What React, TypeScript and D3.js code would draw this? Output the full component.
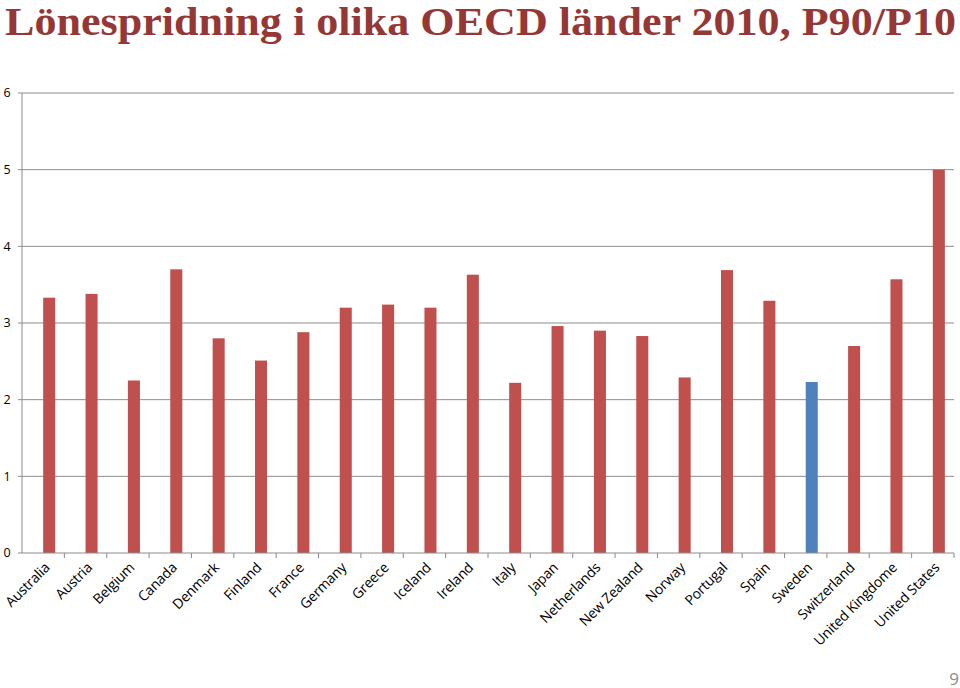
import React from "react";
import * as d3 from "d3";

const countries = [
  "Australia", "Austria", "Belgium", "Canada", "Denmark", "Finland", "France",
  "Germany", "Greece", "Iceland", "Ireland", "Italy", "Japan", "Netherlands",
  "New Zealand", "Norway", "Portugal", "Spain", "Sweden", "Switzerland",
  "United Kingdome", "United States",
];
const p90p10 = [
  3.33, 3.38, 2.25, 3.7, 2.8, 2.51, 2.88, 3.2, 3.24, 3.2, 3.63,
  2.22, 2.96, 2.9, 2.83, 2.29, 3.69, 3.29, 2.23, 2.7, 3.57, 5.0,
];
const highlighted = ["Sweden"];
const yTicks = [0, 1, 2, 3, 4, 5, 6];

const title = "Lönespridning i olika OECD länder 2010, P90/P10";

const W = 960;
const H = 688;
const margin = { top: 93, right: 6, bottom: 135, left: 22 };

export default function App() {
  const x = d3
    .scaleBand<string>()
    .domain(countries)
    .range([margin.left, W - margin.right])
    .padding(0);
  // excel-style clustered slot: empty series left, data series right
  const slot = d3.scaleBand<string>().domain(["empty", "value"]).range([0, x.bandwidth()]).paddingInner(0).paddingOuter(0.76);
  const y = d3.scaleLinear().domain([0, 6]).range([H - margin.bottom, margin.top]);
  const baseY = y(0);

  return (
    <svg
      width={W}
      height={H}
      style={{ position: "absolute", left: 0, top: 0, background: "#fff" }}
      fontFamily="'Open Sans', Lato, sans-serif"
    >
      <text
        x={5}
        y={35}
        fontFamily="'Liberation Serif', serif"
        fontWeight="bold"
        fontSize={41}
        fill="#953735"
        textLength={951}
        lengthAdjust="spacingAndGlyphs"
      >
        {title}
      </text>

      {/* gridlines + y axis */}
      {yTicks.map((t) => (
        <g key={t}>
          {t > 0 && (
            <line x1={margin.left} x2={W - margin.right} y1={y(t)} y2={y(t)} stroke="#8c8c8c" strokeWidth={1} />
          )}
          <line x1={margin.left - 4} x2={margin.left} y1={y(t)} y2={y(t)} stroke="#8c8c8c" />
          <text x={7} y={y(t)} dy="0.35em" fontSize={12.5} textAnchor="middle" fill="#000">
            {t}
          </text>
        </g>
      ))}
      <line x1={margin.left} x2={margin.left} y1={y(6)} y2={baseY} stroke="#8c8c8c" />

      {countries.map((c, i) => (
        <rect
          key={c}
          x={(x(c) ?? 0) + (slot("value") ?? 0)}
          y={y(p90p10[i])}
          width={slot.bandwidth()}
          height={baseY - y(p90p10[i])}
          fill={highlighted.includes(c) ? "#4f81bd" : "#c0504d"}
        />
      ))}

      {/* x axis */}
      <line x1={margin.left} x2={W - margin.right} y1={baseY} y2={baseY} stroke="#8c8c8c" />
      {countries.map((c) => (
        <line
          key={c}
          x1={(x(c) ?? 0) + x.bandwidth()}
          x2={(x(c) ?? 0) + x.bandwidth()}
          y1={baseY}
          y2={baseY + 5}
          stroke="#8c8c8c"
        />
      ))}
      {countries.map((c) => {
        const cx = (x(c) ?? 0) + x.bandwidth() / 2 + 4;
        const cy = baseY + 12;
        return (
          <text
            key={c}
            transform={`translate(${cx},${cy}) rotate(-45)`}
            textAnchor="end"
            dy="0.35em"
            fontSize={14}
            letterSpacing={-0.2}
            fill="#000"
          >
            {c}
          </text>
        );
      })}

      <text x={959} y={685} textAnchor="end" fontSize={17} fill="#8c8c8c">
        9
      </text>
    </svg>
  );
}
